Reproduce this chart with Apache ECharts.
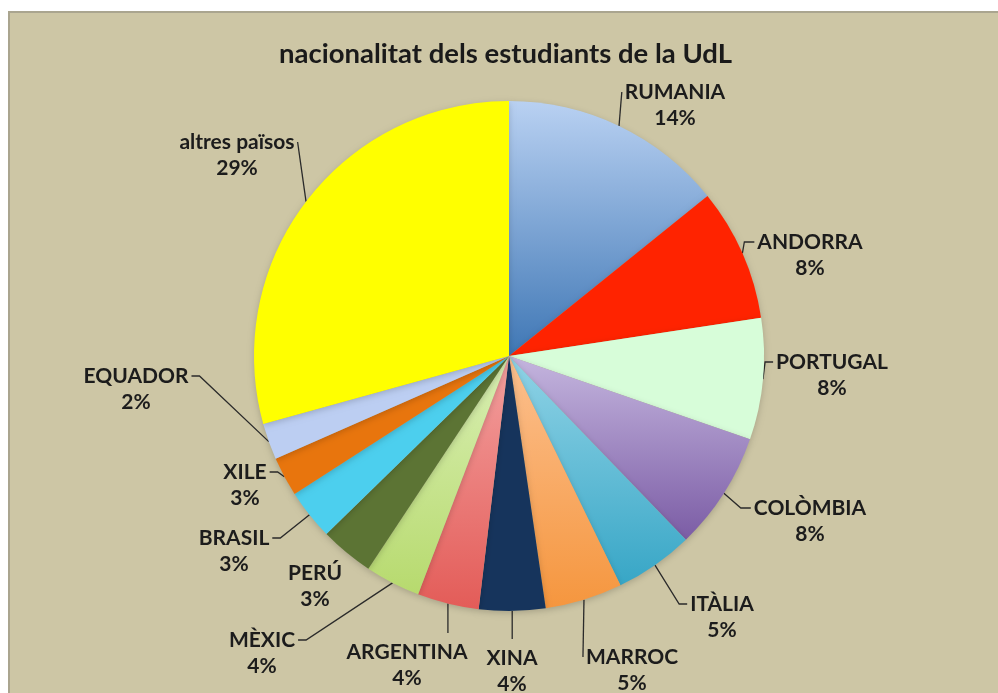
<!DOCTYPE html>
<html><head><meta charset="utf-8">
<script src="https://cdn.jsdelivr.net/npm/echarts@6/dist/echarts.min.js"></script>
<style>
html,body{margin:0;padding:0;background:#fff;width:998px;height:693px;overflow:hidden}
#bg{position:absolute;left:8px;top:11px;right:0;bottom:0;background:#cdc6a5;border-left:2px solid #aaa58f;border-top:2px solid #aaa58f}
#chart{position:absolute;left:0;top:0;width:998px;height:693px}
</style></head>
<body><div id="bg"></div><div id="chart"></div>
<script>
const title = 'nacionalitat dels estudiants de la UdL';
const categories = ['RUMANIA','ANDORRA','PORTUGAL','COLÒMBIA','ITÀLIA','MARROC','XINA','ARGENTINA','MÈXIC','PERÚ','BRASIL','XILE','EQUADOR','altres països'];
const values = [14.2, 8.4, 7.7, 7.5, 5.0, 4.9, 4.2, 3.9, 3.5, 3.4, 3.2, 2.5, 2.3, 29.3];

// styling (colours: plain or [top, bottom] gradient)
const colors = [
  ['#b9d1f2','#3f77b5'], '#ff2300', '#d7fdd9', ['#c4b5de','#7b5ca5'], ['#90d3e6','#37a6c6'],
  ['#fcc08f','#f5963e'], '#16345c', ['#f3a09f','#e35c58'], ['#d9efb4','#b7da6e'], '#5c7434',
  '#4ccfee', '#e8750d', '#bccef2', '#ffff00'
];
// label placement (layout only): centre x, centre y, leader attach side, stub length
const labelPlace = [
  [675,105,'L',0], [810,255,'L',10], [832,375,'L',8], [810,521,'L',10], [722,617,'L',8],
  [632,670,'L',0], [512,671,'T',0], [407,665,'T',0], [262,653,'R',8], [315,586,'N',0],
  [234,551,'R',8], [245,485,'R',8], [136,389,'R',8], [237,155,'R',0]
];

function fill(c){
  if (Array.isArray(c)) return new echarts.graphic.LinearGradient(0,0,0,1,[{offset:0,color:c[0]},{offset:1,color:c[1]}]);
  return c;
}

const data = categories.map((n,i)=>({
  name:n, value:values[i],
  itemStyle:{color:fill(colors[i])},
  labelLine:{show: labelPlace[i][2] !== 'N'}
}));

const chart = echarts.init(document.getElementById('chart'), null, {renderer:'canvas'});
const LH = 26;
chart.setOption({
  backgroundColor:'transparent',
  animation:false,
  title:{
    text:title, left:274, top:35,
    textStyle:{fontFamily:'Lato', fontWeight:'bold', fontSize:27.5, color:'#1a1a1a'}
  },
  series:[{
    type:'pie',
    center:[509,356],
    radius:255,
    startAngle:90,
    clockwise:true,
    avoidLabelOverlap:false,
    data:data,
    itemStyle:{shadowBlur:6, shadowColor:'rgba(0,0,0,0.18)', shadowOffsetY:2},
    label:{
      show:true, position:'outside',
      formatter:p=>p.name+'\n'+Math.round(p.percent+1e-6)+'%',
      fontFamily:'Lato', fontWeight:'bold', fontSize:21, color:'#1c1c1c',
      lineHeight:LH, align:'center'
    },
    labelLine:{show:true, length:10, length2:10, lineStyle:{color:'#2a2a2a', width:1.3}},
    labelLayout:function(params){
      const p = labelPlace[params.dataIndex];
      const w = params.labelRect.width, h = params.labelRect.height;
      const x = p[0], y = p[1];
      const res = {x:x, y:y, align:'center', verticalAlign:'middle'};
      const pts = params.labelLinePoints;
      if (pts && p[2] !== 'N') {
        const e = pts[0];
        const nameY = y - h/2 + LH/2;
        let end, bend;
        if (p[2] === 'L') { end=[x - w/2 - 3, nameY]; bend=[end[0]-p[3], nameY]; }
        else if (p[2] === 'R') { end=[x + w/2 + 3, nameY]; bend=[end[0]+p[3], nameY]; }
        else { end=[e[0], y - h/2 - 6]; bend=end; }
        res.labelLinePoints=[e, bend, end];
      }
      return res;
    }
  }]
});
</script></body></html>
